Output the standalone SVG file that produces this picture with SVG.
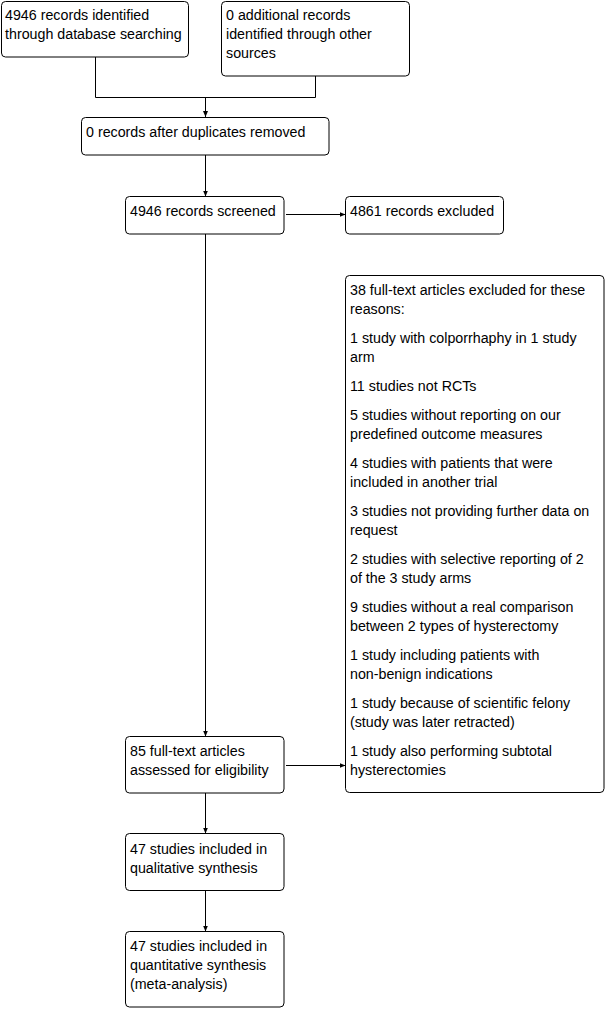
<svg xmlns="http://www.w3.org/2000/svg" width="606" height="1009" viewBox="0 0 606 1009">
<style>
rect.box{fill:#fff;stroke:#000;stroke-width:1}
text{font-family:"Liberation Sans",Arial,sans-serif;font-size:14.25px;fill:#000}
.c{fill:none;stroke:#000;stroke-width:1}
</style>
<defs>
<marker id="ah" viewBox="0 0 6 6" refX="6" refY="3" markerWidth="6" markerHeight="6" orient="auto" markerUnits="userSpaceOnUse">
<path d="M0,0.5 L6,3 L0,5.5 Z" fill="#000"/>
</marker>
</defs>
<rect width="606" height="1009" fill="#fff"/>
<g id="connectors">
<path class="c" d="M95.5,57 V97.5 H315.5 V76"/>
<path class="c" d="M205.5,97.5 V117" marker-end="url(#ah)"/>
<path class="c" d="M205.5,155 V196.5" marker-end="url(#ah)"/>
<path class="c" d="M286,214.5 H345.5" marker-end="url(#ah)"/>
<path class="c" d="M205.5,234 V736.5" marker-end="url(#ah)"/>
<path class="c" d="M286,765.5 H345.5" marker-end="url(#ah)"/>
<path class="c" d="M205.5,793 V833.5" marker-end="url(#ah)"/>
<path class="c" d="M205.5,891 V931.5" marker-end="url(#ah)"/>
</g>
<g id="n1">
<rect class="box" x="1.5" y="1.5" width="187" height="55.5" rx="4"/>
<text x="5" y="20">4946 records identified</text>
<text x="5" y="39">through database searching</text>
</g>
<g id="n2">
<rect class="box" x="221.5" y="1.5" width="188" height="74.5" rx="4"/>
<text x="226" y="20">0 additional records</text>
<text x="226" y="39">identified through other</text>
<text x="226" y="58">sources</text>
</g>
<g id="n3">
<rect class="box" x="81.5" y="117.5" width="247.5" height="37.5" rx="4"/>
<text x="86" y="137">0 records after duplicates removed</text>
</g>
<g id="n4">
<rect class="box" x="125.5" y="196.5" width="158.5" height="37.5" rx="4"/>
<text x="130" y="216">4946 records screened</text>
</g>
<g id="n5">
<rect class="box" x="345.5" y="196.5" width="158" height="37.5" rx="4"/>
<text x="350" y="216">4861 records excluded</text>
</g>
<g id="n6">
<rect class="box" x="345.5" y="275.5" width="258.5" height="517" rx="4"/>
<text x="350" y="295">38 full-text articles excluded for these</text>
<text x="350" y="314">reasons:</text>
<text x="350" y="343">1 study with colporrhaphy in 1 study</text>
<text x="350" y="362">arm</text>
<text x="350" y="391">11 studies not RCTs</text>
<text x="350" y="420">5 studies without reporting on our</text>
<text x="350" y="439">predefined outcome measures</text>
<text x="350" y="468">4 studies with patients that were</text>
<text x="350" y="487">included in another trial</text>
<text x="350" y="516">3 studies not providing further data on</text>
<text x="350" y="535">request</text>
<text x="350" y="564">2 studies with selective reporting of 2</text>
<text x="350" y="583">of the 3 study arms</text>
<text x="350" y="612">9 studies without a real comparison</text>
<text x="350" y="631">between 2 types of hysterectomy</text>
<text x="350" y="660">1 study including patients with</text>
<text x="350" y="679">non-benign indications</text>
<text x="350" y="708">1 study because of scientific felony</text>
<text x="350" y="727">(study was later retracted)</text>
<text x="350" y="756">1 study also performing subtotal</text>
<text x="350" y="775">hysterectomies</text>
</g>
<g id="n7">
<rect class="box" x="125.5" y="736.5" width="158.5" height="56.5" rx="4"/>
<text x="130" y="756">85 full-text articles</text>
<text x="130" y="775">assessed for eligibility</text>
</g>
<g id="n8">
<rect class="box" x="125.5" y="833.5" width="158.5" height="57" rx="4"/>
<text x="130" y="854">47 studies included in</text>
<text x="130" y="873">qualitative synthesis</text>
</g>
<g id="n9">
<rect class="box" x="125.5" y="931.5" width="158.5" height="75.5" rx="4"/>
<text x="130" y="951">47 studies included in</text>
<text x="130" y="970">quantitative synthesis</text>
<text x="130" y="989">(meta-analysis)</text>
</g>
</svg>
